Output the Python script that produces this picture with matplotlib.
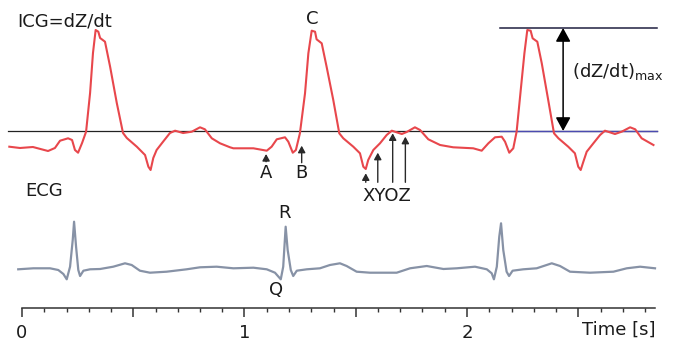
import numpy as np
import matplotlib
matplotlib.use('Agg')
import matplotlib.pyplot as plt

plt.rcParams['font.family'] = ['DejaVu Sans']

# ICG (dZ/dt) trace: time [s] and amplitude relative to the zero line
icg_t = [-0.057, -0.009, 0.049, 0.117, 0.148, 0.171, 0.207, 0.225, 0.238, 0.252,
         0.270, 0.288, 0.306, 0.319, 0.331, 0.343, 0.351, 0.373, 0.396, 0.426,
         0.454, 0.471, 0.516, 0.553, 0.568, 0.578, 0.590, 0.605, 0.634, 0.665,
         0.688, 0.724, 0.763, 0.800, 0.822, 0.853, 0.890, 0.935, 0.950, 1.040,
         1.100, 1.122, 1.145, 1.182, 1.197, 1.217, 1.231, 1.249, 1.272, 1.287,
         1.302, 1.317, 1.324, 1.347, 1.369, 1.399, 1.426, 1.444, 1.489, 1.519,
         1.534, 1.545, 1.556, 1.579, 1.609, 1.639, 1.662, 1.707, 1.729, 1.766,
         1.789, 1.826, 1.879, 1.938, 2.028, 2.066, 2.096, 2.126, 2.156, 2.171,
         2.190, 2.208, 2.223, 2.243, 2.258, 2.271, 2.286, 2.295, 2.316, 2.336,
         2.365, 2.391, 2.411, 2.455, 2.485, 2.500, 2.511, 2.523, 2.538, 2.568,
         2.598, 2.620, 2.665, 2.695, 2.733, 2.756, 2.785, 2.838]
icg_v = [-15.7, -17, -16, -20, -17, -9.7, -7.3, -9, -19, -21.7,
         -12, -0.7, 38, 78, 101, 99.3, 93, 89.3, 64.3, 28,
         -2, -7, -15.7, -24, -35.7, -39, -27, -19, -10.7, -2,
         0.3, -2, -0.7, 3.7, 1.7, -7.3, -12.3, -16.3, -17.3, -17.3,
         -19.7, -15.7, -8.3, -6.3, -10.7, -21.7, -19, -2.3, 37.7, 77.7,
         100.3, 99.3, 91.7, 87.7, 64.3, 31, -2.3, -7.3, -15.7, -22.3,
         -35.7, -38, -29, -19, -12.3, -4, 0.3, -3, -1, 3.7,
         1, -8.3, -14, -16.3, -17.3, -19.7, -12.3, -6.3, -5.7, -10.7,
         -21.7, -17.3, -0.7, 44.3, 77.7, 101, 100.3, 92.7, 89.3, 67.7,
         31, -2.3, -7.3, -15.7, -22.3, -35.7, -39, -30.7, -20.7, -12.3,
         -4, 0.3, -3, -0.7, 3.7, 1.7, -7.3, -14]

# ECG trace
ecg_t = [-0.017, 0.051, 0.126, 0.163, 0.186, 0.201, 0.216, 0.228, 0.234, 0.243,
         0.253, 0.261, 0.276, 0.306, 0.351, 0.410, 0.463, 0.493, 0.530, 0.575,
         0.650, 0.740, 0.800, 0.875, 0.950, 1.040, 1.100, 1.137, 1.163, 1.174,
         1.185, 1.194, 1.208, 1.219, 1.235, 1.280, 1.339, 1.384, 1.429, 1.459,
         1.504, 1.564, 1.684, 1.744, 1.819, 1.894, 1.954, 2.036, 2.089, 2.111,
         2.121, 2.134, 2.145, 2.153, 2.163, 2.178, 2.189, 2.205, 2.253, 2.313,
         2.381, 2.418, 2.463, 2.553, 2.658, 2.718, 2.778, 2.845]
ecg_v = [-0.8, 0.2, 0.2, -1.5, -5.5, -10.8, 1.8, 28.5, 46.8, 21.8,
         -1.5, -7.5, -2.2, -0.8, -0.5, 1.8, 5.2, 3.5, -2.2, -4.2,
         -3.2, -0.8, 1.2, 1.8, 0.2, 0.8, -0.8, -4.2, -10.8, 1.8,
         41.8, 18.5, -1.5, -7.5, -2.2, -0.8, 0.2, 3.5, 5.2, 2.5,
         -3.2, -4.2, -4.2, 0.2, 2.5, -0.5, 0.2, 1.8, -0.8, -4.8,
         -10.8, 1.8, 31.8, 45.2, 18.5, -3.2, -7.5, -2.2, -0.8, 0.2,
         5.2, 2.5, -3.2, -4.2, -3.2, 0.2, 1.8, 0.2]

# ICG characteristic points: time, arrow tip and tail (ICG amplitude units)
icg_points = ['A', 'B', 'X', 'Y', 'O', 'Z']
point_t = [1.097, 1.257, 1.545, 1.599, 1.666, 1.723]
point_tip = [-23, -14.7, -42.3, -21.7, -2.3, -5.7]
point_tail = [-30.7, -31.7, -51.3, -51.3, -51.3, -51.3]

dzdt_max = 103
t_end = 2.845

icg_off = 177
ecg_off = 39.5
txt = '#1b1b1b'

fig = plt.figure(figsize=(6.75, 3.41), dpi=100)
ax = fig.add_axes([0, 33 / 341, 1, 308 / 341])
ax.set_xlim(-22 / 222.5, 653 / 222.5)
ax.set_ylim(0, 308)

# zero line and (dZ/dt)max reference lines
ax.plot([-0.063, 2.854], [icg_off, icg_off], color='#222222', lw=0.9)
ax.plot([2.148, 2.854], [icg_off, icg_off], color='#4b4bb0', lw=1.0)
ax.plot([2.148, 2.854], [icg_off + dzdt_max] * 2, color='#1f1f40', lw=1.1)

ax.plot(icg_t, np.array(icg_v) + icg_off, color='#e8474c', lw=1.5)
ax.plot(ecg_t, np.array(ecg_v) + ecg_off, color='#8792a6', lw=1.6)

# double arrow for (dZ/dt)max
ax.annotate('', xy=(2.432, icg_off + dzdt_max), xytext=(2.432, icg_off),
            arrowprops=dict(arrowstyle='<|-|>,head_length=0.55,head_width=0.3',
                            mutation_scale=15, color='black', lw=1.1,
                            shrinkA=0, shrinkB=0))

for name, t, tip, tail in zip(icg_points, point_t, point_tip, point_tail):
    ax.annotate('', xy=(t, icg_off + tip), xytext=(t, icg_off + tail),
                arrowprops=dict(arrowstyle='-|>,head_length=0.4,head_width=0.22',
                                mutation_scale=10, color='#2a2a2a', lw=1.0,
                                shrinkA=0, shrinkB=0))

fs = 13
ax.text(-0.0225, 286.5, 'ICG=dZ/dt', fontsize=fs, color=txt, ha='left', va='center')
ax.text(1.303, 289, 'C', fontsize=fs, color=txt, ha='center', va='center')
ax.text(2.472, 236, r'(dZ/dt)$_{\mathregular{max}}$', fontsize=fs, color=txt,
        ha='left', va='center')
ax.text(0.0135, 117, 'ECG', fontsize=fs, color=txt, ha='left', va='center')
ax.text(1.182, 95, 'R', fontsize=fs, color=txt, ha='center', va='center')
ax.text(1.1416, 18, 'Q', fontsize=fs, color=txt, ha='center', va='center')
ax.text(1.097, 135, 'A', fontsize=fs, color=txt, ha='center', va='center')
ax.text(1.254, 135, 'B', fontsize=fs, color=txt, ha='center', va='center')
ax.text(1.638, 112, 'XYOZ', fontsize=fs, color=txt, ha='center', va='center')
ax.text(t_end, -22, 'Time [s]', fontsize=fs, color=txt, ha='right',
        va='center', clip_on=False)

# time axis
for s in ['top', 'left', 'right']:
    ax.spines[s].set_visible(False)
ax.spines['bottom'].set_bounds(0, t_end)
ax.spines['bottom'].set_color('#333333')
ax.spines['bottom'].set_linewidth(1.1)
ax.set_yticks([])
ax.set_xticks(np.arange(0, 2.6, 0.5), labels=['0', '', '1', '', '2', ''])
ax.set_xticks(np.arange(0, 2.85, 0.1), minor=True)
ax.tick_params(axis='x', which='major', length=6.5, width=1.1, color='#333333',
               labelsize=fs, labelcolor=txt, pad=5)
ax.tick_params(axis='x', which='minor', length=3, width=1.0, color='#333333')
ax.patch.set_visible(False)

fig.savefig('out.png', dpi=100)
